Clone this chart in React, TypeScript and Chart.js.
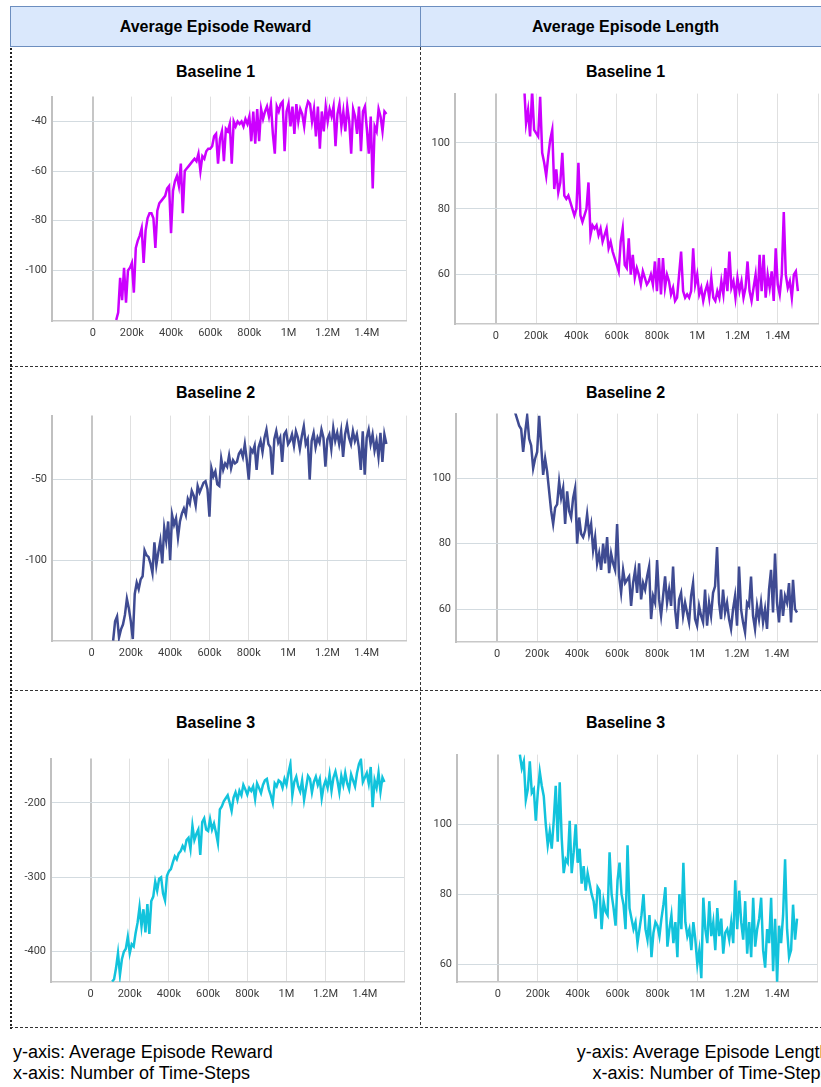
import React, { useEffect, useRef } from 'react';
import { Chart, registerables } from 'chart.js';

Chart.register(...registerables);

// ---------- data ----------
const STEP = 10000; // logging interval (time-steps between points)

const X_TICKS = [0, 200000, 400000, 600000, 800000, 1000000, 1200000, 1400000, 1600000];
const X_TICK_LABELS = ['0', '200k', '400k', '600k', '800k', '1M', '1.2M', '1.4M', ''];

const COLUMN_HEADERS = ['Average Episode Reward', 'Average Episode Length'];
const BASELINES = ['Baseline 1', 'Baseline 2', 'Baseline 3'];
const FOOTER_LEFT = ['y-axis: Average Episode Reward', 'x-axis: Number of Time-Steps'];
const FOOTER_RIGHT = ['y-axis: Average Episode Length', 'x-axis: Number of Time-Steps'];

const REWARD_1_START = 120000;
const REWARD_1 = [
  -120, -117, -103, -112, -99, -113, -100, -99, -97, -109,
  -91, -88, -86, -83, -97, -84, -79, -77, -77, -79,
  -91, -76, -73, -72, -71, -70, -67, -66, -85, -68,
  -64, -62, -66, -57, -77, -60, -59, -58, -57, -56,
  -55, -56, -53, -60, -54, -55, -52, -51, -51, -50,
  -46, -45, -57, -47, -44, -56, -43, -44, -41, -57,
  -40, -42, -40, -41, -40, -42, -39, -41, -38, -48,
  -36, -49, -35, -48, -35, -39, -36, -34, -38, -33,
  -45, -53, -34, -36, -33, -32, -52, -36, -33, -42,
  -34, -45, -33, -40, -35, -37, -42, -35, -32, -33,
  -40, -35, -46, -34, -51, -36, -44, -34, -40, -35,
  -38, -34, -50, -37, -33, -42, -36, -44, -34, -40,
  -53, -35, -38, -45, -34, -52, -36, -34, -43, -53,
  -38, -67, -42, -44, -35, -38, -44, -36, -37,
];
const REWARD_1_YTICKS = [-100, -80, -60, -40];

const LENGTH_1_START = 140000;
const LENGTH_1 = [
  118, 106, 110, 102, 116, 104, 103, 102, 114, 97,
  94, 90, 96, 101, 104, 86, 92, 85, 88, 97,
  84, 83, 84, 82, 80, 78, 80, 94, 78, 76,
  78, 80, 88, 72, 75, 74, 75, 72, 74, 70,
  72, 74, 68, 70, 67, 65, 63, 61, 70, 74,
  63, 62, 71, 60, 66, 59, 62, 60, 57, 61,
  59, 57, 58, 60, 57, 64, 55, 65, 54, 65,
  56, 60, 58, 54, 56, 52, 53, 60, 67, 55,
  53, 54, 53, 55, 68, 57, 60, 54, 56, 52,
  55, 57, 53, 59, 53, 52, 55, 53, 58, 54,
  62, 55, 67, 56, 58, 53, 59, 55, 58, 53,
  56, 64, 55, 52, 56, 60, 52, 66, 55, 66,
  53, 60, 56, 61, 52, 68, 57, 54, 60, 79,
  60, 56, 58, 53, 60, 61, 55,
];
const LENGTH_1_YTICKS = [60, 80, 100];

const REWARD_2_START = 110000;
const REWARD_2 = [
  -150, -138, -135, -148, -143, -140, -134, -124, -130, -138,
  -149, -121, -114, -118, -112, -110, -94, -97, -98, -102,
  -108, -89, -103, -95, -88, -102, -80, -88, -76, -100,
  -72, -78, -74, -86, -76, -71, -68, -72, -62, -65,
  -57, -60, -66, -54, -58, -55, -52, -51, -56, -73,
  -43, -48, -45, -53, -54, -37, -44, -40, -42, -35,
  -43, -38, -40, -39, -34, -32, -36, -28, -38, -50,
  -31, -33, -29, -44, -30, -26, -33, -24, -19, -28,
  -30, -47, -25, -20, -27, -24, -39, -22, -20, -28,
  -26, -22, -29, -20, -24, -31, -23, -17, -28, -25,
  -50, -26, -21, -30, -24, -27, -19, -24, -42, -25,
  -22, -31, -18, -26, -21, -28, -20, -36, -22, -16,
  -24, -28, -20, -26, -22, -30, -44, -20, -47, -24,
  -19, -28, -22, -32, -26, -36, -21, -39, -22, -28,
];
const REWARD_2_YTICKS = [-100, -50];

const LENGTH_2_START = 90000;
const LENGTH_2 = [
  120, 118, 116, 115, 108, 114, 119, 112, 110, 103,
  106, 108, 119, 110, 101, 106, 102, 96, 90, 86,
  91, 92, 99, 94, 97, 86, 96, 90, 88, 94,
  97, 80, 88, 83, 82, 84, 89, 83, 86, 78,
  82, 74, 77, 72, 80, 74, 82, 71, 77, 74,
  72, 86, 70, 65, 72, 68, 69, 70, 61, 68,
  72, 65, 74, 63, 68, 66, 70, 73, 57, 64,
  62, 75, 63, 58, 64, 70, 62, 66, 61, 73,
  60, 54, 63, 65, 58, 62, 59, 56, 64, 68,
  57, 55, 61, 58, 56, 66, 55, 62, 58, 65,
  67, 79, 62, 57, 66, 59, 62, 57, 54, 60,
  64, 55, 73, 60, 56, 53, 62, 61, 70, 58,
  54, 61, 57, 62, 56, 60, 54, 66, 72, 59,
  77, 62, 56, 66, 58, 64, 62, 68, 56, 69,
  60, 59,
];
const LENGTH_2_YTICKS = [60, 80, 100];

const REWARD_3_START = 110000;
const REWARD_3 = [
  -440, -437, -422, -402, -431, -410, -400, -396, -380, -402,
  -390, -393, -375, -361, -340, -366, -343, -374, -336, -376,
  -332, -326, -306, -318, -302, -300, -322, -331, -298, -292,
  -289, -280, -272, -276, -268, -265, -258, -263, -250, -247,
  -262, -231, -250, -242, -236, -270, -226, -221, -236, -238,
  -222, -236, -228, -240, -254, -209, -205, -198, -194, -190,
  -200, -211, -193, -186, -196, -184, -190, -176, -182, -189,
  -180, -184, -178, -195, -174, -180, -187, -176, -170, -168,
  -182, -190, -200, -174, -178, -170, -172, -180, -168, -176,
  -160, -148, -190, -172, -165, -178, -185, -170, -196, -180,
  -164, -168, -186, -172, -165, -176, -168, -194, -178, -170,
  -180, -162, -184, -166, -158, -170, -186, -164, -176, -160,
  -174, -182, -162, -170, -178, -160, -148, -142, -172, -166,
  -160, -174, -152, -206, -170, -180, -160, -185, -166, -172,
];
const REWARD_3_YTICKS = [-400, -300, -200];

const LENGTH_3_START = 110000;
const LENGTH_3 = [
  120, 116, 118, 107, 110, 118, 109, 110, 101, 109,
  115, 111, 108, 100, 94, 98, 93, 101, 111, 95,
  112, 96, 86, 90, 89, 101, 86, 92, 100, 89,
  93, 83, 88, 81, 86, 83, 80, 78, 73, 82,
  81, 70, 78, 75, 74, 92, 80, 76, 71, 84,
  89, 80, 77, 70, 94, 76, 73, 70, 72, 66,
  70, 74, 80, 70, 67, 74, 62, 69, 72, 71,
  68, 73, 77, 82, 65, 70, 74, 66, 72, 62,
  80, 70, 89, 72, 68, 70, 64, 72, 67, 60,
  64, 56, 79, 70, 66, 78, 68, 72, 64, 76,
  68, 73, 63, 69, 70, 67, 72, 66, 84, 70,
  81, 72, 67, 78, 63, 72, 62, 79, 65, 70,
  73, 79, 64, 59, 70, 66, 79, 58, 73, 55,
  71, 66, 74, 90, 70, 62, 64, 77, 67, 73,
];
const LENGTH_3_YTICKS = [60, 80, 100];

// ---------- styles / layout ----------
const COLOR_B1 = '#cc00ff';
const COLOR_B2 = '#3f4b92';
const COLOR_B3 = '#12c3dc';

const AXIS_W = 50;
const AXIS_H = 30;
const PAD = 10;
const X_MAX = 1600000;

type Box = { l: number; t: number; r: number; b: number };
type PanelSpec = {
  values: number[];
  start: number;
  color: string;
  yTicks: number[];
  yMin: number;
  yMax: number;
  xMin: number;
  box: Box;
};

const PANELS: PanelSpec[] = [
  { values: REWARD_1, start: REWARD_1_START, color: COLOR_B1, yTicks: REWARD_1_YTICKS, yMin: -120.4, yMax: -30, xMin: -208000, box: { l: 52, t: 95, r: 406, b: 321 } },
  { values: LENGTH_1, start: LENGTH_1_START, color: COLOR_B1, yTicks: LENGTH_1_YTICKS, yMin: 45, yMax: 115, xMin: -203000, box: { l: 455, t: 92, r: 818, b: 324 } },
  { values: REWARD_2, start: REWARD_2_START, color: COLOR_B2, yTicks: REWARD_2_YTICKS, yMin: -150.2, yMax: -10.3, xMin: -201000, box: { l: 52, t: 414, r: 406, b: 641 } },
  { values: LENGTH_2, start: LENGTH_2_START, color: COLOR_B2, yTicks: LENGTH_2_YTICKS, yMin: 50, yMax: 119.7, xMin: -206000, box: { l: 456, t: 412, r: 817, b: 642 } },
  { values: REWARD_3, start: REWARD_3_START, color: COLOR_B3, yTicks: REWARD_3_YTICKS, yMin: -440.7, yMax: -140.7, xMin: -202000, box: { l: 51, t: 757, r: 404, b: 982 } },
  { values: LENGTH_3, start: LENGTH_3_START, color: COLOR_B3, yTicks: LENGTH_3_YTICKS, yMin: 54.9, yMax: 119.9, xMin: -205000, box: { l: 457, t: 753, r: 817, b: 982 } },
];

const TICK_FONT = { family: 'Roboto, "Noto Sans", sans-serif', size: 11 };
const TICK_COLOR = '#3d3d3d';

function ChartPanel({ spec }: { spec: PanelSpec }) {
  const ref = useRef<HTMLCanvasElement | null>(null);
  const w = spec.box.r - spec.box.l + AXIS_W + PAD;
  const h = spec.box.b - spec.box.t + PAD + AXIS_H;

  useEffect(() => {
    if (!ref.current) return;
    const points = spec.values.map((v, i) => ({ x: spec.start + i * STEP, y: v }));
    const chart = new Chart(ref.current, {
      type: 'line',
      data: {
        datasets: [
          {
            data: points,
            borderColor: spec.color,
            borderWidth: 2.5,
            pointRadius: 0,
            tension: 0,
            fill: false,
          },
        ],
      },
      options: {
        animation: false,
        responsive: false,
        maintainAspectRatio: false,
        events: [],
        layout: { padding: { top: PAD, right: PAD, left: 0, bottom: 0 } },
        plugins: { legend: { display: false }, tooltip: { enabled: false }, title: { display: false } },
        scales: {
          x: {
            type: 'linear',
            min: spec.xMin,
            max: X_MAX,
            afterBuildTicks: (s: any) => {
              s.ticks = X_TICKS.map((v) => ({ value: v }));
            },
            afterFit: (s: any) => {
              s.height = AXIS_H;
            },
            ticks: {
              autoSkip: false,
              maxRotation: 0,
              minRotation: 0,
              padding: 6,
              font: TICK_FONT,
              color: TICK_COLOR,
              callback: (v: any) => {
                const i = X_TICKS.indexOf(Number(v));
                return i >= 0 ? X_TICK_LABELS[i] : '';
              },
            },
            grid: {
              drawTicks: false,
              color: (ctx: any) => (ctx.tick && ctx.tick.value === 0 ? '#c6c6c6' : '#e0e0e0'),
              lineWidth: (ctx: any) => (ctx.tick && ctx.tick.value === 0 ? 2 : 1),
            },
            border: { display: true, color: '#c8c8c8', width: 1.5 },
          },
          y: {
            type: 'linear',
            min: spec.yMin,
            max: spec.yMax,
            afterBuildTicks: (s: any) => {
              s.ticks = spec.yTicks.map((v) => ({ value: v }));
            },
            afterFit: (s: any) => {
              s.width = AXIS_W;
            },
            ticks: {
              padding: 5,
              font: TICK_FONT,
              color: TICK_COLOR,
              callback: (v: any) => String(v),
            },
            grid: { drawTicks: false, color: '#d3dbe0', lineWidth: 1 },
            border: { display: true, color: '#c0c0c0', width: 2 },
          },
        },
      },
    } as any);
    return () => chart.destroy();
  }, [spec]);

  return (
    <canvas
      ref={ref}
      width={w}
      height={h}
      style={{ position: 'absolute', left: spec.box.l - AXIS_W, top: spec.box.t - PAD, width: w, height: h }}
    />
  );
}

const TEXT_FONT = '"Liberation Sans", Arial, sans-serif';

function Title({ text, cx, top }: { text: string; cx: number; top: number }) {
  return (
    <div
      style={{
        position: 'absolute',
        left: cx - 150,
        width: 300,
        top,
        textAlign: 'center',
        fontFamily: TEXT_FONT,
        fontWeight: 'bold',
        fontSize: 16,
        lineHeight: '18px',
        color: '#000',
      }}
    >
      {text}
    </div>
  );
}

export default function App() {
  const headerBase: React.CSSProperties = {
    position: 'absolute',
    top: 6,
    height: 41,
    boxSizing: 'border-box',
    background: '#dae8fc',
    border: '1px solid #6c8ebf',
    display: 'flex',
    alignItems: 'center',
    justifyContent: 'center',
    fontFamily: TEXT_FONT,
    fontWeight: 'bold',
    fontSize: 16,
    color: '#000',
  };
  const titleTops = [63, 384, 714];
  const footerStyle: React.CSSProperties = {
    position: 'absolute',
    fontFamily: TEXT_FONT,
    fontSize: 18,
    lineHeight: '20.5px',
    color: '#000',
    whiteSpace: 'nowrap',
  };

  return (
    <div
      style={{
        position: 'fixed',
        left: 0,
        top: 0,
        width: '100vw',
        height: '100vh',
        overflow: 'hidden',
        background: '#fff',
      }}
    >
      <div style={{ ...headerBase, left: 10, width: 411 }}>{COLUMN_HEADERS[0]}</div>
      <div style={{ ...headerBase, left: 420, width: 411 }}>{COLUMN_HEADERS[1]}</div>

      <svg
        width={821}
        height={1087}
        style={{ position: 'absolute', left: 0, top: 0 }}
      >
        <line x1={11} y1={48} x2={11} y2={1029} stroke="#222" strokeWidth={2} strokeDasharray="2 2" />
        <line x1={420.5} y1={47} x2={420.5} y2={1027} stroke="#333" strokeWidth={1} strokeDasharray="3 2" />
        <line x1={10} y1={366.5} x2={821} y2={366.5} stroke="#333" strokeWidth={1} strokeDasharray="3 2" />
        <line x1={10} y1={690.5} x2={821} y2={690.5} stroke="#333" strokeWidth={1} strokeDasharray="3 2" />
        <line x1={10} y1={1027.5} x2={821} y2={1027.5} stroke="#333" strokeWidth={1} strokeDasharray="3 2" />
      </svg>

      {BASELINES.map((b, i) => (
        <React.Fragment key={b}>
          <Title text={b} cx={215.5} top={titleTops[i]} />
          <Title text={b} cx={625.5} top={titleTops[i]} />
        </React.Fragment>
      ))}

      {PANELS.map((p, i) => (
        <ChartPanel key={i} spec={p} />
      ))}

      <div style={{ ...footerStyle, left: 13, top: 1042 }}>
        <div>{FOOTER_LEFT[0]}</div>
        <div>{FOOTER_LEFT[1]}</div>
      </div>
      <div style={{ ...footerStyle, left: 430, width: 399.5, top: 1042, textAlign: 'right' }}>
        <div>{FOOTER_RIGHT[0]}</div>
        <div>{FOOTER_RIGHT[1]}</div>
      </div>
    </div>
  );
}
